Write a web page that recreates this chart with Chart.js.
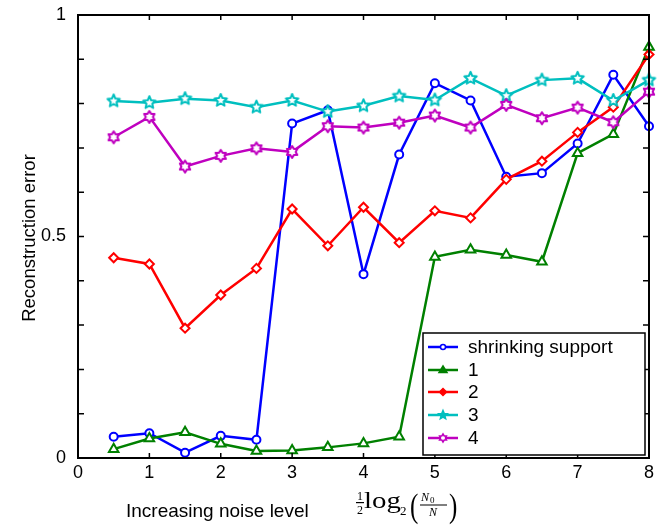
<!DOCTYPE html>
<html>
<head>
<meta charset="utf-8">
<script src="https://cdn.jsdelivr.net/npm/chart.js@4/dist/chart.umd.min.js"></script>
<style>
  body { margin: 0; background: #fff; }
  #wrap { width: 657px; height: 526px; }
</style>
</head>
<body>
<div id="wrap"><canvas id="errChart" width="657" height="526"></canvas></div>
<script>
// ----------------------
//  DATA
// ----------------------
const noiseLevel = [0.5, 1, 1.5, 2, 2.5, 3, 3.5, 4, 4.5, 5, 5.5, 6, 6.5, 7, 7.5, 8];
const seriesLabels = ['shrinking support', '1', '2', '3', '4'];
const shrinkingSupport = [0.048, 0.056, 0.012, 0.050, 0.041, 0.755, 0.785, 0.415, 0.685, 0.846, 0.807, 0.635, 0.643, 0.710, 0.865, 0.749];
const series1 = [0.020, 0.044, 0.058, 0.032, 0.016, 0.017, 0.024, 0.033, 0.048, 0.454, 0.470, 0.458, 0.443, 0.688, 0.731, 0.928];
const series2 = [0.452, 0.438, 0.293, 0.368, 0.428, 0.562, 0.479, 0.566, 0.486, 0.558, 0.542, 0.629, 0.670, 0.735, 0.792, 0.911];
const series3 = [0.806, 0.802, 0.811, 0.807, 0.792, 0.807, 0.782, 0.795, 0.817, 0.808, 0.857, 0.818, 0.853, 0.857, 0.807, 0.853];
const series4 = [0.724, 0.770, 0.658, 0.682, 0.699, 0.691, 0.749, 0.746, 0.757, 0.773, 0.746, 0.797, 0.767, 0.791, 0.758, 0.827];
const xTicks = [0, 1, 2, 3, 4, 5, 6, 7, 8];
const yTickLabels = ['0', '0.5', '1'];

const colors = ['#0000ff', '#008000', '#ff0000', '#00bfbf', '#bf00bf'];
const FONT = '"Liberation Sans", Arial, Helvetica, sans-serif';
const SERIF = '"Liberation Serif", "Times New Roman", serif';

// ----------------------
//  MARKERS
// ----------------------
function starPath(ctx, cx, cy, n, rOut, rIn) {
    ctx.beginPath();
    for (let i = 0; i < n * 2; i++) {
        const r = i % 2 === 0 ? rOut : rIn;
        const a = -Math.PI / 2 + i * Math.PI / n;
        const px = cx + Math.cos(a) * r;
        const py = cy + Math.sin(a) * r;
        if (i === 0) ctx.moveTo(px, py); else ctx.lineTo(px, py);
    }
    ctx.closePath();
}

function starMarker(n, rOut, rIn, color, fill) {
    const c = document.createElement('canvas');
    const s = Math.ceil(rOut * 2 + 4);
    c.width = s; c.height = s;
    const ctx = c.getContext('2d');
    starPath(ctx, s / 2, s / 2, n, rOut, rIn);
    ctx.fillStyle = fill;
    ctx.fill();
    ctx.lineWidth = 2;
    ctx.strokeStyle = color;
    ctx.lineJoin = 'round';
    ctx.stroke();
    return c;
}

const pentagram = starMarker(5, 6.5, 3, colors[3], '#fff');
const hexagram = starMarker(6, 6, 3.6, colors[4], '#fff');

// ----------------------
//  DATASETS
// ----------------------
function points(values) {
    return values.map((v, i) => ({ x: noiseLevel[i], y: v }));
}

const allSeries = [shrinkingSupport, series1, series2, series3, series4];
const styles = ['circle', 'triangle', 'rectRot', pentagram, hexagram];
const radii = [4, 5.5, 4.5, 6, 6];

const datasets = allSeries.map((vals, i) => ({
    label: seriesLabels[i],
    data: points(vals),
    borderColor: colors[i],
    backgroundColor: colors[i],
    borderWidth: 2.5,
    pointStyle: styles[i],
    pointRadius: radii[i],
    pointBorderWidth: 2,
    pointBorderColor: colors[i],
    pointBackgroundColor: '#fff',
    tension: 0,
    clip: false,
    order: 5 - i,
}));

// ----------------------
//  FRAME, TICKS, LABELS, LEGEND
// ----------------------
const framePlugin = {
    id: 'frame',
    afterDraw(chart) {
        const ctx = chart.ctx;
        const a = chart.chartArea;
        const xs = chart.scales.x;
        const ys = chart.scales.y;
        ctx.save();

        // inward ticks
        ctx.strokeStyle = '#000';
        ctx.lineWidth = 1.5;
        ctx.beginPath();
        xs.ticks.forEach(t => {
            const px = xs.getPixelForValue(t.value);
            ctx.moveTo(px, a.bottom); ctx.lineTo(px, a.bottom - 5);
            ctx.moveTo(px, a.top); ctx.lineTo(px, a.top + 5);
        });
        ys.ticks.forEach(t => {
            const py = ys.getPixelForValue(t.value);
            ctx.moveTo(a.left, py); ctx.lineTo(a.left + 6, py);
            ctx.moveTo(a.right, py); ctx.lineTo(a.right - 6, py);
        });
        ctx.stroke();

        // box
        ctx.lineWidth = 2;
        ctx.strokeRect(a.left, a.top, a.right - a.left, a.bottom - a.top);

        // y title
        ctx.fillStyle = '#000';
        ctx.font = '18.5px ' + FONT;
        ctx.textAlign = 'center';
        ctx.textBaseline = 'middle';
        ctx.save();
        ctx.translate(30, 238);
        ctx.rotate(-Math.PI / 2);
        ctx.fillText('Reconstruction error', 0, 0);
        ctx.restore();

        // x title
        ctx.font = '19px ' + FONT;
        ctx.textAlign = 'left';
        ctx.textBaseline = 'alphabetic';
        ctx.fillText('Increasing noise level', 126, 517);

        // 1/2 log2 (N0 / N)
        ctx.textAlign = 'center';
        ctx.font = '12px ' + SERIF;
        ctx.fillText('1', 360, 500);
        ctx.fillText('2', 360, 514);
        ctx.fillRect(356, 502, 8, 1.2);
        ctx.save();
        ctx.translate(364, 508);
        ctx.scale(1.2, 1);
        ctx.font = '24px ' + SERIF;
        ctx.textAlign = 'left';
        ctx.fillText('log', 0, 0);
        ctx.restore();
        ctx.textAlign = 'left';
        ctx.font = '13px ' + SERIF;
        ctx.fillText('2', 400, 515);
        ctx.save();
        ctx.translate(0, 517);
        ctx.scale(1, 1.35);
        ctx.font = '25px ' + SERIF;
        ctx.fillText('(', 410, 0);
        ctx.fillText(')', 449, 0);
        ctx.restore();
        ctx.font = 'italic 12px ' + SERIF;
        ctx.fillText('N', 421, 501);
        ctx.font = '9px ' + SERIF;
        ctx.fillText('0', 430, 503);
        ctx.fillRect(420, 504.5, 27, 1);
        ctx.font = 'italic 12px ' + SERIF;
        ctx.textAlign = 'center';
        ctx.fillText('N', 433, 516);

        // legend
        const lx = 423, ly = 333, lw = 222, lh = 122;
        ctx.fillStyle = '#fff';
        ctx.fillRect(lx, ly, lw, lh);
        ctx.strokeStyle = '#000';
        ctx.lineWidth = 1.5;
        ctx.strokeRect(lx, ly, lw, lh);
        const rowY = [347, 370, 392, 415, 438];
        chart.data.datasets.forEach((ds, i) => {
            const y = rowY[i];
            ctx.strokeStyle = ds.borderColor;
            ctx.fillStyle = ds.borderColor;
            ctx.lineWidth = 2.5;
            ctx.beginPath();
            ctx.moveTo(428, y); ctx.lineTo(458, y);
            ctx.stroke();
            ctx.lineWidth = 1.5;
            const cx = 443;
            if (i === 0) {
                ctx.beginPath(); ctx.arc(cx, y, 2.5, 0, Math.PI * 2);
                ctx.fillStyle = '#fff'; ctx.fill(); ctx.stroke();
            } else if (i === 1) {
                ctx.beginPath();
                ctx.moveTo(cx, y - 4); ctx.lineTo(cx + 4, y + 2.5); ctx.lineTo(cx - 4, y + 2.5);
                ctx.closePath(); ctx.fill(); ctx.stroke();
            } else if (i === 2) {
                ctx.beginPath();
                ctx.moveTo(cx, y - 3.5); ctx.lineTo(cx + 3.5, y); ctx.lineTo(cx, y + 3.5); ctx.lineTo(cx - 3.5, y);
                ctx.closePath(); ctx.fill(); ctx.stroke();
            } else if (i === 3) {
                starPath(ctx, cx, y, 5, 4.5, 2); ctx.fill(); ctx.stroke();
            } else {
                starPath(ctx, cx, y, 6, 4, 2.4);
                ctx.fillStyle = '#fff'; ctx.fill(); ctx.stroke();
            }
            ctx.fillStyle = '#000';
            ctx.font = '19px ' + FONT;
            ctx.textAlign = 'left';
            ctx.textBaseline = 'middle';
            ctx.fillText(ds.label, 468, y + 1);
        });
        ctx.restore();
    }
};

// ----------------------
//  CHART
// ----------------------
const options = {
    responsive: false,
    animation: false,
    layout: { padding: { top: 15, right: 5, left: 0, bottom: 0 } },
    plugins: {
        legend: { display: false },
        tooltip: { enabled: false },
    },
    scales: {
        x: {
            type: 'linear',
            min: 0,
            max: 8,
            afterBuildTicks: scale => { scale.ticks = xTicks.map(v => ({ value: v })); },
            afterFit: scale => {
                scale.height = 68;
                scale.paddingLeft = 0;
                scale.paddingRight = 0;
            },
            grid: { display: false, drawTicks: false },
            border: { display: false },
            ticks: {
                color: '#000',
                padding: 4,
                maxRotation: 0,
                font: { size: 18, family: FONT },
                callback: value => String(value),
            },
        },
        y: {
            min: 0,
            max: 1,
            afterFit: scale => {
                scale.width = 78;
                scale.paddingTop = 0;
                scale.paddingBottom = 0;
            },
            grid: { display: false, drawTicks: false },
            border: { display: false },
            ticks: {
                stepSize: 0.1,
                color: '#000',
                padding: 12,
                font: { size: 18, family: FONT },
                callback: function (value) {
                    const lbl = yTickLabels.find(t => Math.abs(parseFloat(t) - value) < 1e-6);
                    return lbl !== undefined ? lbl : '';
                },
            },
        },
    },
};

const ctx = document.getElementById('errChart').getContext('2d');
const errChart = new Chart(ctx, {
    type: 'line',
    data: { datasets: datasets },
    options: options,
    plugins: [framePlugin],
});
</script>
</body>
</html>
